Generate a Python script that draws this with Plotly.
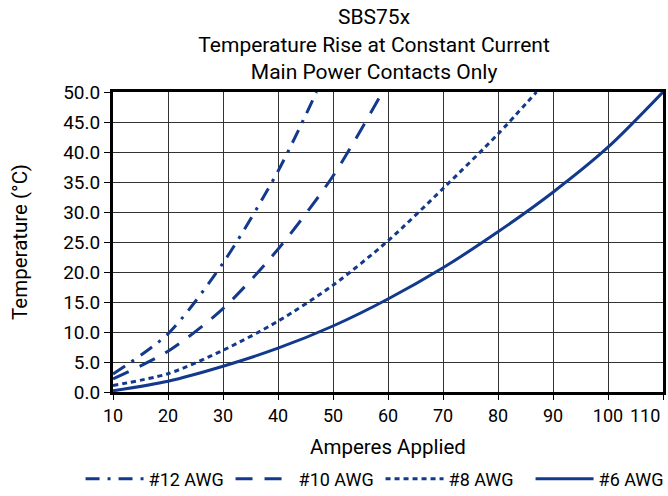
import plotly.graph_objects as go

# Data
amps_12 = [10, 20, 30, 40, 47]
temp_12 = [3.0, 9.7, 21.5, 36.8, 50.0]

amps_10 = [10, 20, 30, 40, 50, 59]
temp_10 = [2.2, 6.8, 13.9, 23.8, 36.0, 50.0]

amps_8 = [10, 20, 30, 40, 50, 60, 70, 80, 87]
temp_8 = [1.1, 3.05, 6.95, 11.8, 17.8, 25.2, 33.9, 43.0, 50.0]

amps_6 = [10, 20, 30, 40, 50, 60, 70, 80, 90, 100, 110]
temp_6 = [0.2, 1.8, 4.3, 7.3, 11.0, 15.5, 20.7, 26.7, 33.3, 40.8, 50.0]

x_ticks = [10, 20, 30, 40, 50, 60, 70, 80, 90, 100, 110]
x_labels = ["10", "20", "30", "40", "50", "60", "70", "80", "90", "100",
            "110" + "\u00a0" * 8]
y_ticks = [0, 5, 10, 15, 20, 25, 30, 35, 40, 45, 50]

FONT = "Roboto, sans-serif"
BLUE = "#12398c"

series = [
    ("#12 AWG", amps_12, temp_12, "14px,8px,3px,8px"),
    ("#10 AWG", amps_10, temp_10, "17px,12px"),
    ("#8 AWG", amps_8, temp_8, "5px,4px"),
    ("#6 AWG", amps_6, temp_6, "solid"),
]

fig = go.Figure()
for name, xs, ys, dash in series:
    fig.add_trace(go.Scatter(
        x=xs, y=ys, name=name, mode="lines",
        line=dict(color=BLUE, width=3, dash=dash, shape="spline", smoothing=0.8),
    ))

fig.update_layout(
    width=668, height=496,
    margin=dict(l=113, r=5, t=92, b=104, autoexpand=False),
    paper_bgcolor="white", plot_bgcolor="white",
    font=dict(family=FONT, size=18, color="black"),
    title=dict(
        text="SBS75x<br>Temperature Rise at Constant Current<br>Main Power Contacts Only",
        x=0.56, xref="container", xanchor="center",
        y=0.951, yref="container", yanchor="top",
        font=dict(family=FONT, size=21, color="black"),
    ),
    showlegend=True,
    legend=dict(
        orientation="h", x=-0.059, xanchor="left", y=-0.29, yanchor="middle",
        font=dict(family=FONT, size=18, color="black"),
        entrywidth=77, entrywidthmode="pixels",
        itemwidth=58, tracegroupgap=0,
    ),
)

fig.update_xaxes(
    range=[10, 110], tickvals=x_ticks, ticktext=x_labels,
    showgrid=True, gridcolor="#333333", gridwidth=1,
    showline=True, linecolor="black", linewidth=3, mirror=True,
    ticks="outside", ticklen=5, tickcolor="black", tickwidth=1,
    zeroline=False, automargin=False, ticklabeloverflow="allow",
    tickfont=dict(size=18),
    title=dict(text="Amperes Applied", standoff=16, font=dict(size=20.5)),
)
fig.update_yaxes(
    range=[0, 50], tickvals=y_ticks, ticktext=[f"{v:.1f}" for v in y_ticks],
    showgrid=True, gridcolor="#333333", gridwidth=1,
    showline=True, linecolor="black", linewidth=3, mirror=True,
    ticks="outside", ticklen=6, tickcolor="black", tickwidth=1,
    zeroline=False, automargin=False, ticklabeloverflow="allow",
    tickfont=dict(size=19),
    title=dict(text="Temperature (°C)", standoff=30, font=dict(size=20.5)),
)

fig.write_html(
    "out.html",
    config={"displayModeBar": False},
    post_script="document.body.style.margin='0';document.body.style.padding='0';",
)
